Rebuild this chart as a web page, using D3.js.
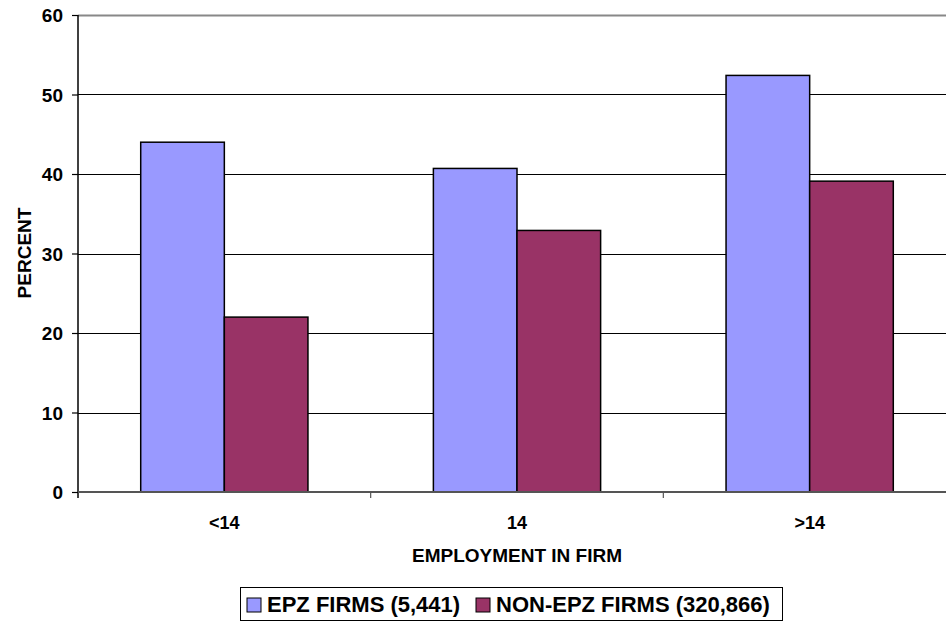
<!DOCTYPE html>
<html lang="en">
<head>
    <meta charset="UTF-8"/>
    <title>Employment in firm</title>
    <script src="https://d3js.org/d3.v7.min.js"></script>
    <style>
        body { margin: 0; background: white; }
        svg { display: block; font-family: "Liberation Sans", Arial, sans-serif; font-weight: bold; }
    </style>
</head>
<body>
<script>
    var w = 946;
    var h = 622;

    // data
    var categories = ["<14", "14", ">14"];
    var seriesNames = ["EPZ FIRMS (5,441)", "NON-EPZ FIRMS (320,866)"];
    var epz = [44.0, 40.7, 52.4];
    var nonEpz = [22.0, 32.9, 39.1];
    var yTicks = [0, 10, 20, 30, 40, 50, 60];
    var colors = ["#9999FF", "#993366"];

    var padLeft = 78, padTop = 15, plotW = 878, baseY = 492;

    var xScale = d3.scaleBand()
        .domain(categories)
        .range([padLeft, padLeft + plotW]);

    var xInner = d3.scaleBand()
        .domain([0, 1])
        .range([0, xScale.bandwidth()])
        .paddingOuter(0.75)
        .paddingInner(0);

    var yScale = d3.scaleLinear()
        .domain([0, 60])
        .range([baseY, padTop]);

    var svg = d3.select("body")
        .append("svg")
        .attr("width", w)
        .attr("height", h);

    // gridlines
    svg.selectAll("line.grid")
        .data(yTicks.filter(function(d){ return d > 0; }))
        .enter()
        .append("line")
        .attr("class", "grid")
        .attr("x1", padLeft)
        .attr("x2", padLeft + plotW)
        .attr("y1", function(d){ return Math.round(yScale(d)) + 0.5; })
        .attr("y2", function(d){ return Math.round(yScale(d)) + 0.5; })
        .attr("stroke", function(d){ return d == 60 ? "#888" : "#000"; })
        .attr("stroke-width", function(d){ return d == 60 ? 2 : 1.2; });

    // bars
    var rows = categories.map(function(c, i){ return {cat: c, vals: [epz[i], nonEpz[i]]}; });

    var groups = svg.selectAll("g.grp")
        .data(rows)
        .enter()
        .append("g")
        .attr("transform", function(d){ return "translate(" + xScale(d.cat) + ",0)"; });

    groups.selectAll("rect")
        .data(function(d){ return d.vals; })
        .enter()
        .append("rect")
        .attr("x", function(d, i){ return xInner(i); })
        .attr("y", function(d){ return yScale(d); })
        .attr("width", xInner.bandwidth())
        .attr("height", function(d){ return baseY - yScale(d); })
        .attr("fill", function(d, i){ return colors[i]; })
        .attr("stroke", "#000")
        .attr("stroke-width", 1.5);

    // y axis
    var yAxis = d3.axisLeft(yScale)
        .tickValues(yTicks)
        .tickSize(6)
        .tickPadding(9);

    var gy = svg.append("g")
        .attr("transform", "translate(" + padLeft + ",0)")
        .call(yAxis);
    gy.select(".domain").remove();
    gy.selectAll(".tick line").attr("stroke", "#000").attr("stroke-width", 1.2);
    gy.selectAll("text").style("font-size", "19px").attr("fill", "#000").attr("dy", "0.35em");

    svg.append("line")
        .attr("x1", padLeft).attr("x2", padLeft)
        .attr("y1", padTop).attr("y2", baseY + 6)
        .attr("stroke", "#000").attr("stroke-width", 1.5);

    // x axis
    svg.append("line")
        .attr("x1", padLeft).attr("x2", padLeft + plotW)
        .attr("y1", baseY).attr("y2", baseY)
        .attr("stroke", "#555").attr("stroke-width", 2);

    svg.selectAll("line.xtick")
        .data(categories.slice(1))
        .enter()
        .append("line")
        .attr("x1", function(d){ return xScale(d); })
        .attr("x2", function(d){ return xScale(d); })
        .attr("y1", baseY).attr("y2", baseY + 6)
        .attr("stroke", "#555").attr("stroke-width", 1.2);

    svg.selectAll("text.cat")
        .data(categories)
        .enter()
        .append("text")
        .attr("x", function(d){ return xScale(d) + xScale.bandwidth() / 2; })
        .attr("y", 529)
        .attr("text-anchor", "middle")
        .style("font-size", "18px")
        .text(function(d){ return d; });

    // axis titles
    svg.append("text")
        .attr("x", 517)
        .attr("y", 562)
        .attr("text-anchor", "middle")
        .style("font-size", "19px")
        .text("EMPLOYMENT IN FIRM");

    svg.append("text")
        .attr("transform", "translate(31,253) rotate(-90)")
        .attr("text-anchor", "middle")
        .style("font-size", "19px")
        .text("PERCENT");

    // legend
    svg.append("rect")
        .attr("x", 240.5).attr("y", 587.5)
        .attr("width", 542).attr("height", 33)
        .attr("fill", "white").attr("stroke", "#000").attr("stroke-width", 1);

    var legX = [247, 476];
    var leg = svg.selectAll("g.leg")
        .data(seriesNames)
        .enter()
        .append("g")
        .attr("transform", function(d, i){ return "translate(" + legX[i] + ",598)"; });

    leg.append("rect")
        .attr("width", 14).attr("height", 14)
        .attr("fill", function(d, i){ return colors[i]; })
        .attr("stroke", "#000").attr("stroke-width", 1);

    leg.append("text")
        .attr("x", 20)
        .attr("y", 14)
        .style("font-size", "22px")
        .text(function(d){ return d; });
</script>
</body>
</html>
